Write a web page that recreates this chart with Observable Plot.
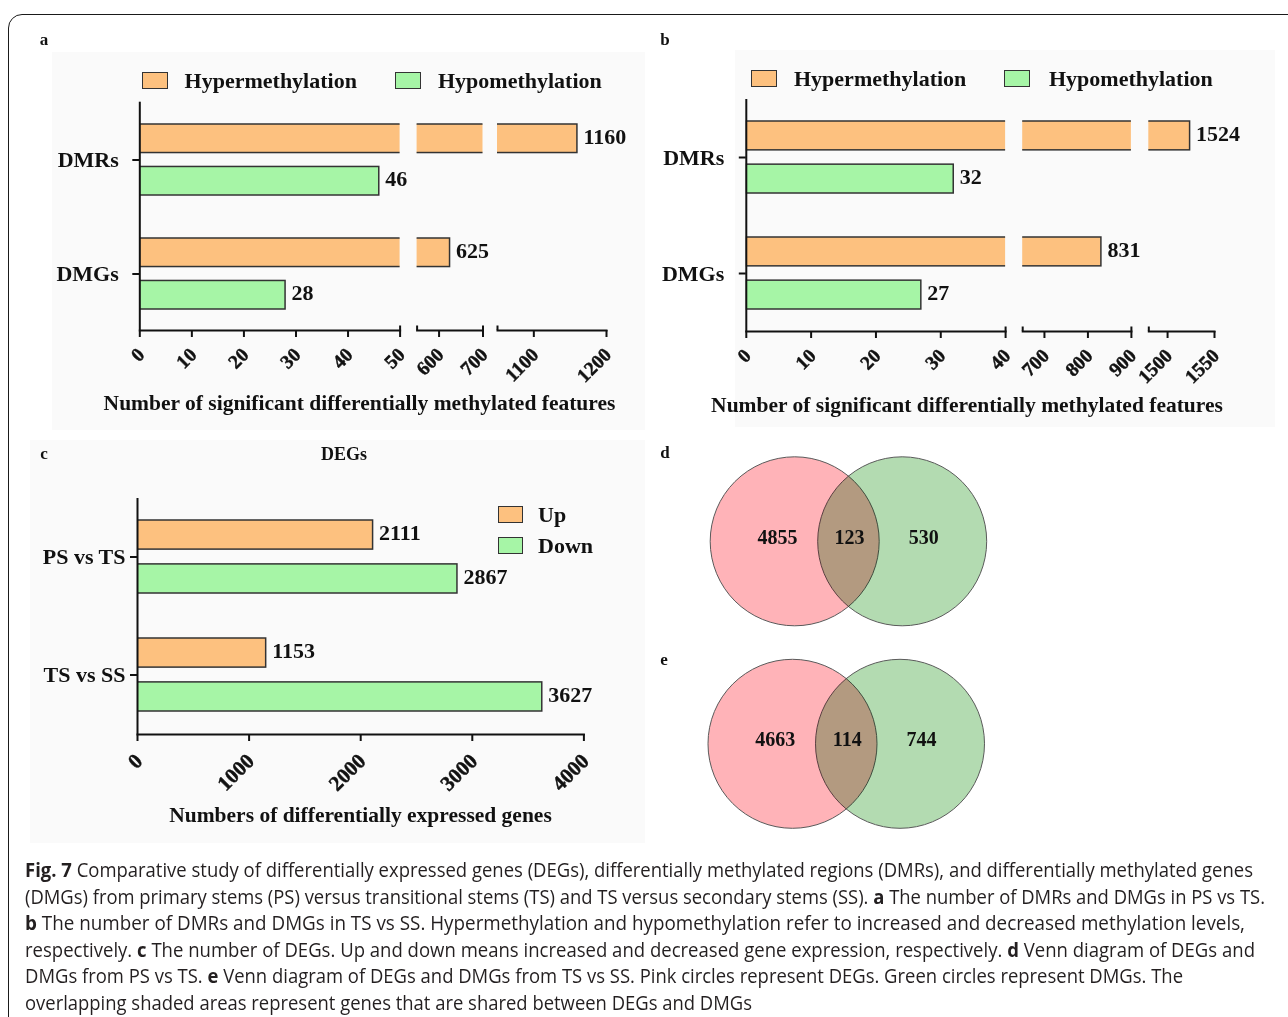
<!DOCTYPE html>
<html><head><meta charset="utf-8">
<script src="https://cdn.jsdelivr.net/npm/d3@7"></script>
<script src="https://cdn.jsdelivr.net/npm/@observablehq/plot@0.6"></script>
<style>
html,body{margin:0;padding:0;background:#fff;}
#root{position:relative;width:1288px;height:1017px;overflow:hidden;background:#fff;}
.abs{position:absolute;white-space:nowrap;}
.serif{font-family:'Liberation Serif','Times New Roman',serif;font-weight:bold;color:#111;}
.ctr{transform:translate(-50%,-50%);}
.sw{position:absolute;box-sizing:border-box;border:1.5px solid #333;}
.cap{position:absolute;left:25px;white-space:nowrap;font-family:'Open Sans',sans-serif;font-size:19.5px;color:#231f20;transform-origin:0 50%;line-height:26px;}
.cap b{font-weight:700;}
</style></head><body><div id="root"></div>
<script>
// ---------- data ----------
const methCategories = ["DMRs", "DMGs"];
const psTsHyper = [1160, 625];
const psTsHypo = [46, 28];
const tsSsHyper = [1524, 831];
const tsSsHypo = [32, 27];
const degComparisons = ["PS vs TS", "TS vs SS"];
const degUp = [2111, 1153];
const degDown = [2867, 3627];
const vennPsTs = [4855, 123, 530];   // DEGs only, shared, DMGs only
const vennTsSs = [4663, 114, 744];
const domainsA = [[0, 50], [550, 700], [1050, 1200]];
const ticksA = [[0, 10, 20, 30, 40, 50], [600, 700], [1100, 1200]];
const domainsB = [[0, 40], [650, 900], [1480, 1550]];
const ticksB = [[0, 10, 20, 30, 40], [700, 800, 900], [1500, 1550]];
const ticksC = [0, 1000, 2000, 3000, 4000];
const legendMeth = ["Hypermethylation", "Hypomethylation"];
const legendDeg = ["Up", "Down"];

// ---------- style ----------
const SERIF = "'Liberation Serif','Times New Roman',serif";
const ORANGE = "#fdc17f", GREEN = "#a6f5a6", EDGE = "#333";
const PINK = "#ffb3b8", VGREEN = "#b3dbb1";
const root = document.getElementById("root");

function add(html, cls, css) {
  const d = document.createElement("div");
  d.className = cls; d.innerHTML = html; Object.assign(d.style, css);
  root.appendChild(d); return d;
}
function addSvg(svg) {
  Object.assign(svg.style, {position: "absolute", left: "0px", top: "0px", maxWidth: "none"});
  root.appendChild(svg);
}

// outer border
add("", "abs", {left: "8px", top: "14px", width: "1300px", height: "1030px", border: "1.6px solid #1a1a1a", borderRadius: "14px", boxSizing: "border-box"});
// panel backgrounds
add("", "abs", {left: "52px", top: "52px", width: "593px", height: "378px", background: "#fafafa"});
add("", "abs", {left: "735px", top: "50px", width: "540px", height: "377px", background: "#fafafa"});
add("", "abs", {left: "30px", top: "440px", width: "615px", height: "403px", background: "#fafafa"});

function rowsOf(cats, a, b) {
  return cats.flatMap((c, i) => [{c, g: 0, v: a[i]}, {c, g: 1, v: b[i]}]);
}

function barSegment({cats, rows, domain, ticks, x0, x1, top, bottom, first, caps, tickFont, tickDy, yPad}) {
  const H = bottom - top, n = cats.length, pi = 0.38, po = 0.19;
  const step = H / (n - pi + 2 * po), bw = step * (1 - pi);
  const inset = 0.6 * bw, dyv = 0.3 * bw;
  const g0 = rows.filter(d => d.g === 0), g1 = rows.filter(d => d.g === 1);
  const inDom = d => d.v >= domain[0] && d.v <= domain[1];
  const txt = {x: "v", y: "c", dx: 6, text: d => String(d.v), textAnchor: "start", fontSize: 22, fontWeight: "bold", fontFamily: SERIF, fill: "#111"};
  const marks = [
    Plot.barX(g0, {x: "v", y: "c", insetBottom: inset, fill: ORANGE, stroke: EDGE, strokeWidth: 1.5, clip: true}),
    Plot.barX(g1, {x: "v", y: "c", insetTop: inset, fill: GREEN, stroke: EDGE, strokeWidth: 1.5, clip: true}),
    Plot.text(g0.filter(inDom), {...txt, dy: -dyv - 2}),
    Plot.text(g1.filter(inDom), {...txt, dy: dyv - 2}),
    Plot.frame({anchor: "bottom", stroke: "#111", strokeWidth: 2}),
    Plot.axisX({ticks, label: null, tickSize: 7, tickFormat: () => "", strokeWidth: 2, stroke: "#111"}),
    Plot.text(ticks, {x: d => d, frameAnchor: "bottom", dy: tickDy, dx: 1.5, rotate: -45, textAnchor: "end", lineAnchor: "middle", text: d => String(d), fontSize: tickFont, fontWeight: "bold", fontFamily: SERIF, fill: "#111", stroke: "#111", strokeWidth: 0.45}),
    Plot.ruleX(caps, {insetTop: H - 4.5, stroke: "#111", strokeWidth: 2})
  ];
  if (first) {
    marks.push(Plot.ruleX([domain[0]], {stroke: "#111", strokeWidth: 2}));
    marks.push(Plot.axisY({label: null, tickSize: 7, tickPadding: yPad, fontSize: 22, fontWeight: "bold", fontFamily: SERIF, strokeWidth: 2, stroke: "#111", fill: "#111"}));
  }
  return Plot.plot({
    width: 1288, height: 1017,
    marginLeft: x0, marginRight: 1288 - x1, marginTop: top, marginBottom: 1017 - bottom,
    x: {domain, label: null},
    y: {domain: cats, label: null, paddingInner: pi, paddingOuter: po, axis: first ? undefined : null},
    style: {background: "transparent", overflow: "visible", fontFamily: SERIF, fontWeight: "bold", color: "#111"},
    marks
  });
}

// ---------- panel a ----------
const rangesA = [[139.3, 399.6], [416.6, 482.5], [497, 606]];
const capsA = [[50], [550, 700], [1050]];
const rowsA = rowsOf(methCategories, psTsHyper, psTsHypo);
domainsA.forEach((dom, i) => addSvg(barSegment({cats: methCategories, rows: rowsA, domain: dom, ticks: ticksA[i], x0: rangesA[i][0], x1: rangesA[i][1], top: 101.7, bottom: 330, first: i === 0, caps: capsA[i], tickFont: 19.5, tickDy: 21, yPad: 14})));

// ---------- panel b ----------
const rangesB = [[745.8, 1005.1], [1022.2, 1130.9], [1148.3, 1214]];
const capsB = [[40], [650, 900], [1480]];
const rowsB = rowsOf(methCategories, tsSsHyper, tsSsHypo);
domainsB.forEach((dom, i) => addSvg(barSegment({cats: methCategories, rows: rowsB, domain: dom, ticks: ticksB[i], x0: rangesB[i][0], x1: rangesB[i][1], top: 99, bottom: 331, first: i === 0, caps: capsB[i], tickFont: 19.5, tickDy: 21, yPad: 15})));

// ---------- panel c ----------
const rowsC = rowsOf(degComparisons, degUp, degDown);
addSvg(barSegment({cats: degComparisons, rows: rowsC, domain: [0, 4000], ticks: ticksC, x0: 137, x1: 583.4, top: 498, bottom: 734, first: true, caps: [], tickFont: 21, tickDy: 23, yPad: 5}));

// ---------- venn d, e ----------
function venn(counts, cx0, cx1, cy) {
  const circles = [{set: "DEGs", pos: 0}, {set: "DMGs", pos: 1}];
  const regionPos = [-0.16, 0.51, 1.2];
  const labels = counts.map((v, i) => ({v, pos: regionPos[i]}));
  return Plot.plot({
    width: 1288, height: 1017, margin: 0,
    x: {domain: [0, 1], range: [cx0, cx1], axis: null},
    y: {domain: [-1, 1], range: [cy + 100, cy - 100], axis: null},
    style: {background: "transparent", overflow: "visible"},
    marks: [
      Plot.dot(circles.slice(0, 1), {x: "pos", y: 0, r: 84.5, fill: PINK, stroke: "#5a5a5a", strokeWidth: 1}),
      Plot.dot(circles.slice(1), {x: "pos", y: 0, r: 84.5, fill: VGREEN, stroke: "#5a5a5a", strokeWidth: 1, mixBlendMode: "multiply"}),
      Plot.text(labels, {x: "pos", y: 0, dy: -4, text: d => String(d.v), fontSize: 20, fontWeight: "bold", fontFamily: SERIF, fill: "#111"})
    ]
  });
}
addSvg(venn(vennPsTs, 794.2, 901.7, 540.8));
addSvg(venn(vennTsSs, 792, 899.5, 743.3));

// ---------- texts ----------
const lbl = (t, x, y, fs) => add(t, "abs serif ctr", {left: x + "px", top: y + "px", fontSize: fs + "px"});
lbl("a", 44, 40, 17); lbl("b", 665, 40, 17); lbl("c", 44, 454, 17); lbl("d", 665, 453, 17); lbl("e", 664, 660, 17);
lbl("DEGs", 344, 454, 18);
lbl("Number of significant differentially methylated features", 359.5, 403, 21.5);
lbl("Number of significant differentially methylated features", 967, 405, 21.5);
lbl("Numbers of differentially expressed genes", 360.5, 815, 21.5);

function legendItem(color, text, sx, sy, w, h, tx, fs) {
  add("", "sw", {left: sx + "px", top: sy + "px", width: w + "px", height: h + "px", background: color});
  add(text, "abs serif", {left: tx + "px", top: (sy + h / 2) + "px", fontSize: fs + "px", transform: "translateY(-50%)"});
}
legendItem(ORANGE, legendMeth[0], 142, 72, 26, 17, 184.6, 22);
legendItem(GREEN, legendMeth[1], 394.6, 72, 26, 17, 438, 22);
legendItem(ORANGE, legendMeth[0], 751, 70, 26, 17, 794, 22);
legendItem(GREEN, legendMeth[1], 1004, 70, 26, 17, 1049, 22);
legendItem(ORANGE, legendDeg[0], 498, 506, 25, 17, 538, 22);
legendItem(GREEN, legendDeg[1], 498, 537, 25, 17, 538, 22);

// ---------- caption ----------
const capLines = [
  "<b>Fig. 7</b> Comparative study of differentially expressed genes (DEGs), differentially methylated regions (DMRs), and differentially methylated genes",
  "(DMGs) from primary stems (PS) versus transitional stems (TS) and TS versus secondary stems (SS). <b>a</b> The number of DMRs and DMGs in PS vs TS.",
  "<b>b</b> The number of DMRs and DMGs in TS vs SS. Hypermethylation and hypomethylation refer to increased and decreased methylation levels,",
  "respectively. <b>c</b> The number of DEGs. Up and down means increased and decreased gene expression, respectively. <b>d</b> Venn diagram of DEGs and",
  "DMGs from PS vs TS. <b>e</b> Venn diagram of DEGs and DMGs from TS vs SS. Pink circles represent DEGs. Green circles represent DMGs. The",
  "overlapping shaded areas represent genes that are shared between DEGs and DMGs"
];
const capEnds = [1253, 1265, 1245, 1255, 1183, 752];
capLines.forEach((h, i) => {
  const d = add(h, "cap", {top: (857 + i * 26.5) + "px"});
  const w = d.getBoundingClientRect().width;
  d.style.transform = `scaleX(${(capEnds[i] - 25) / w})`;
});
</script></body></html>
